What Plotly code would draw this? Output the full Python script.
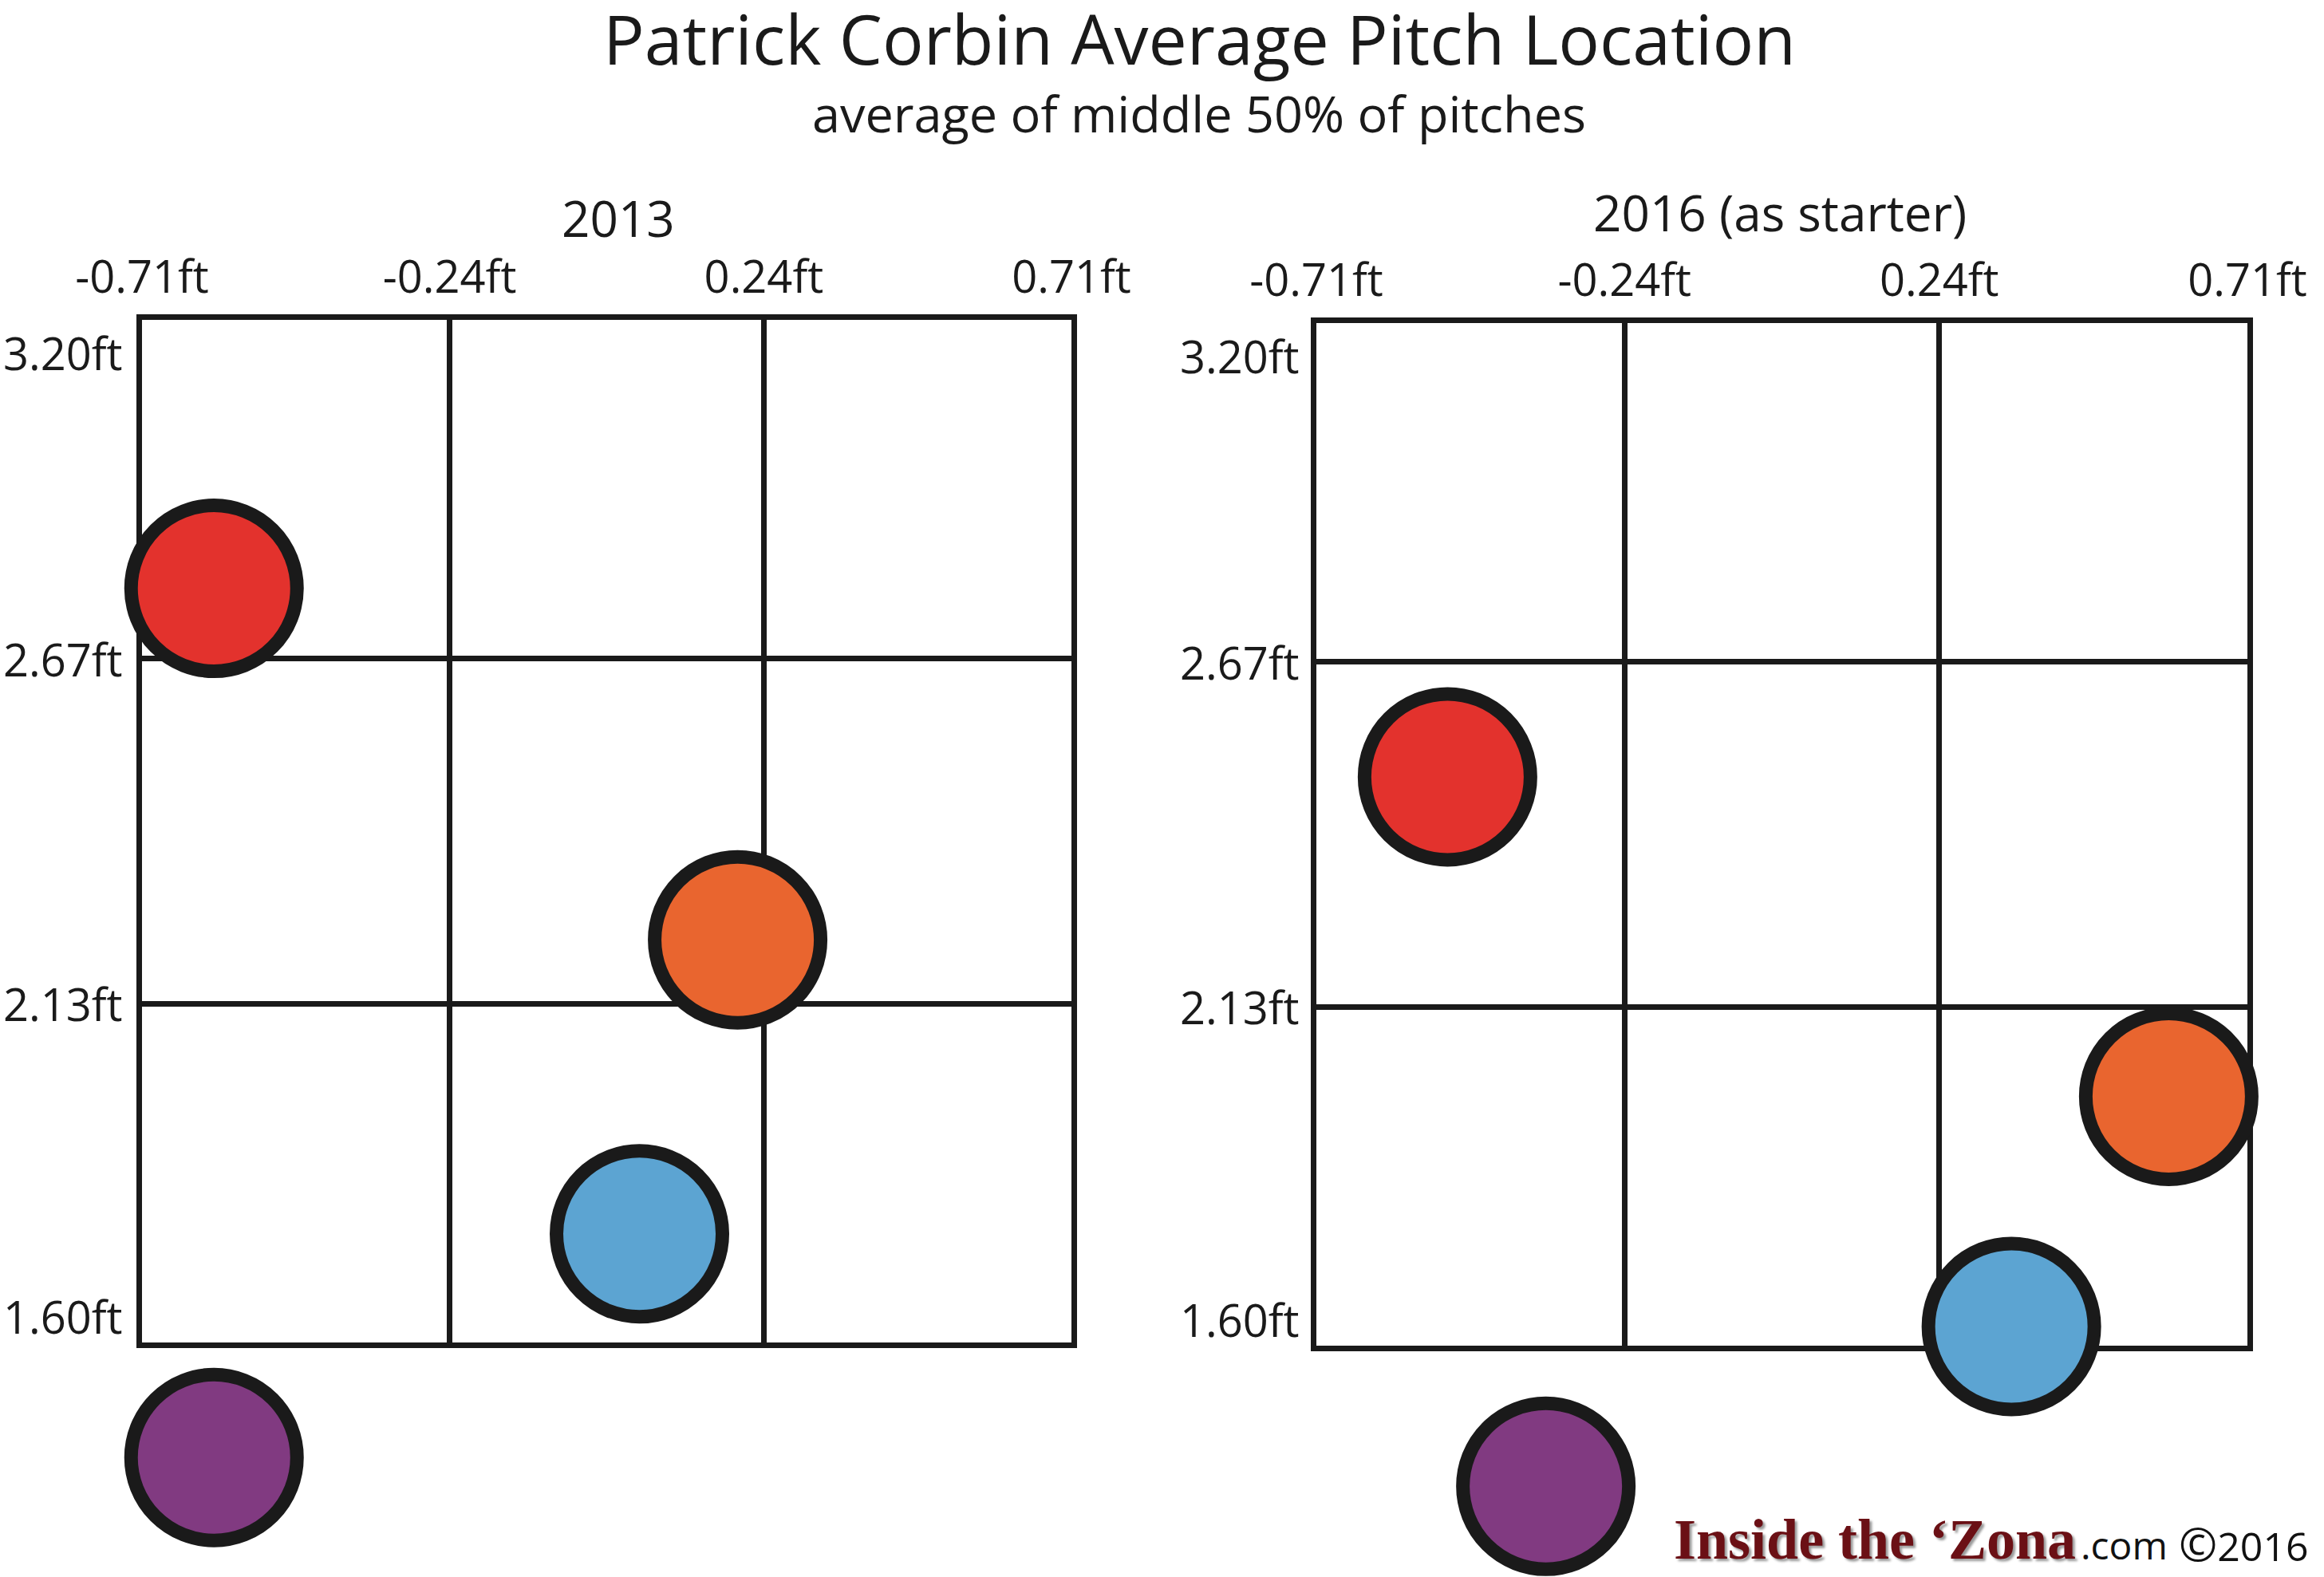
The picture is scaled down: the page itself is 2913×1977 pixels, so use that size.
import plotly.graph_objects as go

# ---- data ----
pitch_types = ["Fastball", "Slider", "Changeup", "Curve"]
pitch_colors = ["#E3322D", "#E9652F", "#5CA4D2", "#813A81"]

x_2013 = [-0.60, 0.20, 0.05, -0.60]
y_2013 = [2.78, 2.23, 1.77, 1.42]

x_2016 = [-0.51, 0.59, 0.35, -0.36]
y_2016 = [2.49, 1.99, 1.63, 1.38]

x_ticks = [-0.71, -0.24, 0.24, 0.71]
x_tick_labels = ["-0.71ft", "-0.24ft", "0.24ft", "0.71ft"]
y_ticks = [1.60, 2.13, 2.67, 3.20]
y_tick_labels = ["1.60ft", "2.13ft", "2.67ft", "3.20ft"]

panel_titles = ["2013", "2016 (as starter)"]

W, H = 2913, 1977
FONT = "Open Sans"
INK = "#1a1a1a"
LW = 7

fig = go.Figure()

panels = [
    dict(xs=x_2013, ys=y_2013, xdom=[178 / W, 1343 / W], ydom=[1 - 1683 / H, 1 - 401 / H]),
    dict(xs=x_2016, ys=y_2016, xdom=[1650 / W, 2817 / W], ydom=[1 - 1687 / H, 1 - 405 / H]),
]

xr = [x_ticks[0], x_ticks[-1]]
yr = [y_ticks[0], y_ticks[-1]]

layout_axes = {}
for i, p in enumerate(panels):
    gx = "" if i == 0 else "2"          # grid axes
    mx = str(3 + i)                     # marker axes (same scale, extended downward)
    layout_axes["xaxis" + gx] = dict(
        domain=p["xdom"], anchor="y" + gx, range=xr, side="top",
        tickvals=x_ticks, ticktext=x_tick_labels, ticks="", ticklabelstandoff=5,
        showgrid=True, gridcolor=INK, gridwidth=LW, zeroline=False,
        showline=True, mirror=True, linecolor=INK, linewidth=LW, automargin=False,
        tickfont=dict(family=FONT, size=56, color=INK), fixedrange=True,
    )
    layout_axes["yaxis" + gx] = dict(
        domain=p["ydom"], anchor="x" + gx, range=yr,
        tickvals=y_ticks, showticklabels=False, ticks="",
        showgrid=True, gridcolor=INK, gridwidth=LW, zeroline=False,
        showline=True, mirror=True, linecolor=INK, linewidth=LW, automargin=False,
        fixedrange=True,
    )
    # marker axes: same x scale, y scale identical but domain extended to the bottom
    ppu = (p["ydom"][1] - p["ydom"][0]) / (yr[1] - yr[0])
    ylow = yr[0] - p["ydom"][0] / ppu
    layout_axes["xaxis" + mx] = dict(domain=p["xdom"], anchor="y" + mx, range=xr,
                                     visible=False, automargin=False, fixedrange=True)
    layout_axes["yaxis" + mx] = dict(domain=[0, p["ydom"][1]], anchor="x" + mx,
                                     range=[ylow, yr[1]], visible=False,
                                     automargin=False, fixedrange=True)
    fig.add_trace(go.Scatter(
        x=p["xs"], y=p["ys"], xaxis="x" + mx, yaxis="y" + mx,
        mode="markers", cliponaxis=False, showlegend=False,
        text=pitch_types, hoverinfo="text",
        marker=dict(size=208, color=pitch_colors, line=dict(color=INK, width=17), opacity=1),
    ))

annotations = []
# y tick labels (ends nudged inward like the reference)
for i, xpos in enumerate([156 / W, 1631 / W]):
    yref = "y" if i == 0 else "y2"
    for v, lab in zip(y_ticks, y_tick_labels):
        shift = 0
        if v == y_ticks[-1]:
            shift = -41
        elif v == y_ticks[0]:
            shift = 33
        annotations.append(dict(
            x=xpos, xref="paper", y=v, yref=yref, text=lab, showarrow=False,
            xanchor="right", yanchor="middle", yshift=shift,
            font=dict(family=FONT, size=56, color=INK),
        ))

# titles
annotations.append(dict(x=1503 / W, y=1 - 48 / H, xref="paper", yref="paper",
                        text="Patrick Corbin Average Pitch Location", showarrow=False,
                        xanchor="center", yanchor="middle",
                        font=dict(family=FONT, size=86, color=INK)))
annotations.append(dict(x=1503 / W, y=1 - 141 / H, xref="paper", yref="paper",
                        text="average of middle 50% of pitches", showarrow=False,
                        xanchor="center", yanchor="middle",
                        font=dict(family=FONT, size=63, color=INK)))
for t, cx, cy in zip(panel_titles, [775, 2231], [273, 266]):
    annotations.append(dict(x=cx / W, y=1 - cy / H, xref="paper", yref="paper",
                            text=t, showarrow=False, xanchor="center", yanchor="middle",
                            font=dict(family=FONT, size=62, color=INK)))

# watermark
annotations.append(dict(x=2096 / W, y=1 - 1930 / H, xref="paper", yref="paper",
                        text="<b>Inside the \u2018Zona</b>", showarrow=False,
                        xanchor="left", yanchor="middle",
                        font=dict(family="Liberation Serif", size=72, color="#6b1015",
                                  shadow="3px 3px 3px #999999")))
annotations.append(dict(x=2606 / W, y=1 - 1936 / H, xref="paper", yref="paper",
                        text=".com", showarrow=False,
                        xanchor="left", yanchor="middle",
                        font=dict(family=FONT, size=48, color="#111111")))
annotations.append(dict(x=2896 / W, y=1 - 1934 / H, xref="paper", yref="paper",
                        text="<span style='font-size:58px'>\u00a9</span>2016", showarrow=False,
                        xanchor="right", yanchor="middle",
                        font=dict(family=FONT, size=50, color="#111111")))

fig.update_layout(
    width=W, height=H, margin=dict(l=0, r=0, t=0, b=0, autoexpand=False),
    paper_bgcolor="white", plot_bgcolor="rgba(0,0,0,0)",
    annotations=annotations, showlegend=False, **layout_axes,
)

fig.write_html("out.html")
